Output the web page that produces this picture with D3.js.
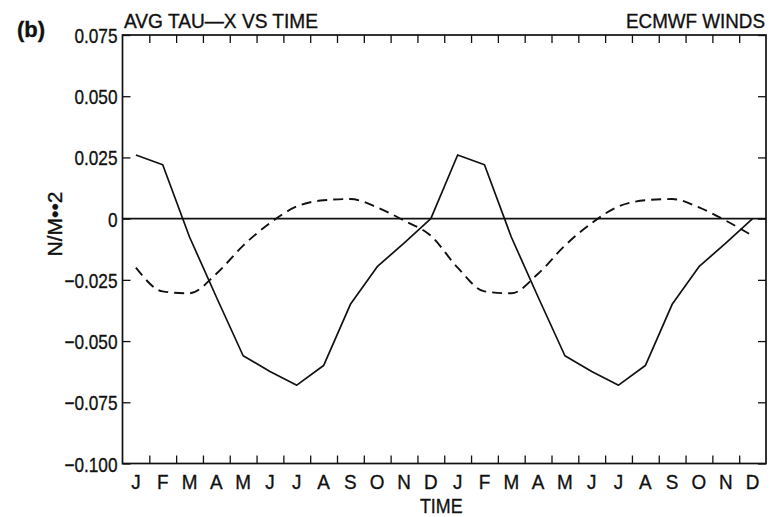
<!DOCTYPE html>
<html>
<head>
<meta charset="utf-8">
<script src="https://d3js.org/d3.v7.min.js"></script>
<style>
  html, body { margin: 0; padding: 0; background: #fff; }
  svg { display: block; }
  text { font-family: "Liberation Sans", Arial, Helvetica, sans-serif; fill: #111; stroke: #111; stroke-width: 0.35px; }
</style>
</head>
<body>
<svg id="chart" width="775" height="517"></svg>
<script>
// ---- data ----
const months = ["J","F","M","A","M","J","J","A","S","O","N","D"];
const monthLabels = months.concat(months);            // two annual cycles
const solidTau  = [0.026, 0.022, -0.0075, -0.032, -0.056, -0.0624, -0.068, -0.060, -0.035, -0.0196, -0.010, 0.000];
const dashedTau = [-0.020, -0.0297, -0.0305, -0.0225, -0.011, -0.0018, 0.005, 0.0075, 0.008, 0.0046, -0.0008, -0.007];
const yTickValues = [0.075, 0.050, 0.025, 0, -0.025, -0.050, -0.075, -0.100];
const yTickLabels = ["0.075", "0.050", "0.025", "0", "\u22120.025", "\u22120.050", "\u22120.075", "\u22120.100"];
const titleLeft = "AVG TAU\u2014X VS TIME";
const titleRight = "ECMWF WINDS";
const panelTag = "(b)";
const xTitle = "TIME";
const yTitle = "N/M\u2022\u20222";

// ---- layout ----
const L = 122.5, R = 766, T = 35, B = 463.5;
const svg = d3.select("#chart");
const ink = "#111";

const x = d3.scaleLinear().domain([0, 24]).range([L, R]);
const y = d3.scaleLinear().domain([-0.100, 0.075]).range([B, T]);

const solid2 = solidTau.concat(solidTau);
const dashed2 = dashedTau.concat(dashedTau);

// horizontally condense a text element about its anchor x
function condense(sel, f) {
  sel.each(function() {
    const t = d3.select(this);
    const ax = +t.attr("x") || 0;
    t.attr("transform", `translate(${ax},0) scale(${f},1) translate(${-ax},0)`);
  });
}

// frame
svg.append("rect")
  .attr("x", L).attr("y", T).attr("width", R - L).attr("height", B - T)
  .attr("fill", "none").attr("stroke", ink).attr("stroke-width", 1.7);

// bottom ticks (month boundaries, pointing inward)
const xAxisB = d3.axisBottom(x).tickValues(d3.range(1, 24)).tickSize(-8).tickFormat("");
svg.append("g").attr("transform", `translate(0,${B})`).call(xAxisB)
  .call(g => g.select(".domain").remove())
  .selectAll("line").attr("stroke", ink).attr("stroke-width", 1.3);
// top ticks
const xAxisT = d3.axisTop(x).tickValues(d3.range(1, 24)).tickSize(-8).tickFormat("");
svg.append("g").attr("transform", `translate(0,${T})`).call(xAxisT)
  .call(g => g.select(".domain").remove())
  .selectAll("line").attr("stroke", ink).attr("stroke-width", 1.3);

// month labels
svg.append("g").selectAll("text").data(monthLabels).join("text")
  .attr("x", (d, i) => x(i + 0.5))
  .attr("y", 489)
  .attr("text-anchor", "middle")
  .attr("font-size", 21)
  .text(d => d)
  .call(condense, 0.9);

// left axis with labels
const yAxisL = d3.axisLeft(y).tickValues(yTickValues).tickSize(-8).tickPadding(5)
  .tickFormat((d, i) => yTickLabels[i]);
const gl = svg.append("g").attr("transform", `translate(${L},0)`).call(yAxisL);
gl.select(".domain").remove();
gl.selectAll("line").attr("stroke", ink).attr("stroke-width", 1.3);
gl.selectAll("text").attr("font-size", 21).attr("fill", ink)
  .attr("font-family", "'Liberation Sans', Arial, sans-serif").attr("dy", "0.36em")
  .call(condense, 0.82);

// right axis ticks
const yAxisR = d3.axisRight(y).tickValues(yTickValues).tickSize(-8).tickFormat("");
svg.append("g").attr("transform", `translate(${R},0)`).call(yAxisR)
  .call(g => g.select(".domain").remove())
  .selectAll("line").attr("stroke", ink).attr("stroke-width", 1.3);

// zero line
svg.append("line")
  .attr("x1", L).attr("x2", R).attr("y1", y(0)).attr("y2", y(0))
  .attr("stroke", ink).attr("stroke-width", 1.6);

// solid series
const lineLin = d3.line().x((d, i) => x(i + 0.5)).y(d => y(d));
svg.append("path").datum(solid2)
  .attr("d", lineLin)
  .attr("fill", "none").attr("stroke", ink).attr("stroke-width", 1.7)
  .attr("stroke-linejoin", "round");

// dashed series
const lineSmooth = d3.line().x((d, i) => x(i + 0.5)).y(d => y(d)).curve(d3.curveMonotoneX);
svg.append("path").datum(dashed2)
  .attr("d", lineSmooth)
  .attr("fill", "none").attr("stroke", ink).attr("stroke-width", 1.9)
  .attr("stroke-dasharray", "10,6");

// titles
svg.append("text").attr("x", 124).attr("y", 28).attr("font-size", 20)
  .attr("textLength", 194).attr("lengthAdjust", "spacingAndGlyphs").text(titleLeft);
svg.append("text").attr("x", 626).attr("y", 28).attr("font-size", 20)
  .attr("textLength", 139).attr("lengthAdjust", "spacingAndGlyphs")
  .text(titleRight);
svg.append("text").attr("x", 17).attr("y", 37).attr("font-size", 22)
  .attr("font-weight", "bold").text(panelTag);
svg.append("text").attr("x", x(12) - 3).attr("y", 513).attr("font-size", 21)
  .attr("text-anchor", "middle").text(xTitle)
  .call(condense, 0.85);
svg.append("text")
  .attr("transform", "translate(62,224) rotate(-90)")
  .attr("text-anchor", "middle").attr("font-size", 21)
  .text(yTitle);
</script>
</body>
</html>
